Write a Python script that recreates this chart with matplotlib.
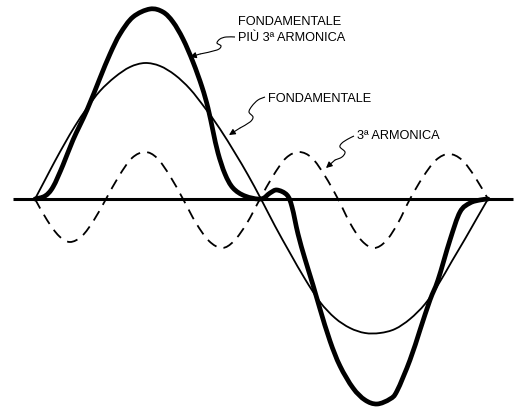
import matplotlib
matplotlib.use("Agg")
import matplotlib.pyplot as plt
import numpy as np
from matplotlib.path import Path
from matplotlib.patches import PathPatch

# x in picture units along the axis, y = height above the zero line
fund_x = [35, 45, 55, 65, 75, 87, 100, 115, 130, 145, 160, 175, 190, 205, 220,
          235, 248, 261, 275, 290, 305, 320, 335, 350, 365, 380, 395, 410, 425,
          438, 452, 465, 477, 488]
fund_y = [0, 19, 38, 56, 73, 91, 108, 122, 132, 136, 133, 124, 110, 91, 70,
          46, 24, 0, -27, -54, -80, -103, -119, -129, -134, -134, -130, -120,
          -105, -86, -62, -40, -19, 0]

third_x = [35, 47, 59, 70, 82, 94, 106, 119, 132, 145, 157, 170, 183, 196, 209,
           222, 234, 247, 260, 273, 286, 299, 312, 325, 338, 350, 362, 374, 386,
           398, 410, 423, 436, 449, 462, 475, 488]
third_y = [0, -21, -37, -43, -37, -21, 0, 23, 41, 47, 41, 23, 0, -24, -42,
           -49, -42, -24, 0, 23, 41, 47, 41, 23, 0, -24, -42, -49, -42,
           -24, 0, 22, 39, 45, 39, 22, 0]

sum_x = [35, 45, 53, 63, 73, 87, 100, 110, 120, 133, 150, 163, 173, 183, 193,
         202, 208, 213, 218, 225, 233, 245, 261, 270, 277, 287, 292, 298, 305,
         313, 320, 330, 340, 353, 365, 377, 390, 397, 410, 420, 430, 438, 450,
         460, 470, 480, 488]
sum_y = [0, 3, 12, 34, 59, 89, 121, 145, 165, 182, 190, 187, 177, 160, 137,
         112, 91, 68, 46, 25, 11, 3, 0, 6, 9, 4, -8, -35, -60, -86, -110, -142,
         -167, -189, -201, -205, -200, -192, -161, -131, -101, -81, -41, -13,
         -4, -1, 0]

axis_x = [13, 513]

labels = ["FONDAMENTALE\nPIÙ 3ª ARMONICA", "FONDAMENTALE", "3ª ARMONICA"]
label_pos = [(238, 158), (268, 97), (357, 60)]

leader_x = [
    [235, 226, 220, 217, 221, 217, 200, 190],
    [265, 258, 252, 249, 253, 250, 240, 229],
    [354, 348, 342, 340, 345, 342, 335, 326],
]
leader_y = [
    [162, 162, 160, 156, 153, 149, 145, 142],
    [102, 99, 93, 87, 82, 77, 71, 64],
    [63, 60, 56, 52, 47, 42, 39, 31],
]


def smooth_path(xs, ys):
    """Bezier path passing through the given points (Catmull-Rom)."""
    p = np.column_stack([xs, ys]).astype(float)
    verts = [p[0]]
    codes = [Path.MOVETO]
    for i in range(len(p) - 1):
        p0 = p[max(i - 1, 0)]
        p1, p2 = p[i], p[i + 1]
        p3 = p[min(i + 2, len(p) - 1)]
        verts += [p1 + (p2 - p0) / 6, p2 - (p3 - p1) / 6, p2]
        codes += [Path.CURVE4] * 3
    return Path(verts, codes)


fig = plt.figure(figsize=(5.19, 4.07), dpi=100)
ax = fig.add_axes([0, 0, 1, 1])
ax.set_xlim(0, 519)
ax.set_ylim(-208, 199)
ax.axis("off")

ax.plot(axis_x, [0, 0], color="black", lw=2.2, solid_capstyle="butt")
ax.add_patch(PathPatch(smooth_path(fund_x, fund_y), fill=False,
                       edgecolor="black", lw=1.3))
ax.add_patch(PathPatch(smooth_path(third_x, third_y), fill=False,
                       edgecolor="black", lw=1.3, linestyle=(0, (6, 4))))
ax.add_patch(PathPatch(smooth_path(sum_x, sum_y), fill=False,
                       edgecolor="black", lw=3.4, joinstyle="round",
                       capstyle="round"))

for (tx, ty), text in zip(label_pos, labels):
    ax.text(tx, ty, text, family="Liberation Sans", fontsize=9.2,
            ha="left", va="baseline", linespacing=1.4)

for lx, ly in zip(leader_x, leader_y):
    ax.add_patch(PathPatch(smooth_path(lx[:-1], ly[:-1]), fill=False,
                           edgecolor="black", lw=0.8))
    ax.annotate("", xy=(lx[-1], ly[-1]), xytext=(lx[-2], ly[-2]),
                arrowprops=dict(arrowstyle="-|>", color="black", lw=0.8,
                                mutation_scale=9, shrinkA=0, shrinkB=0))

fig.savefig("out.png", dpi=100)
